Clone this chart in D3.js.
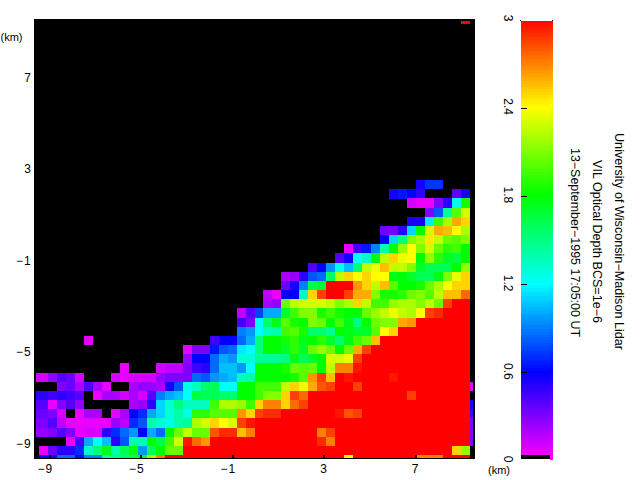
<!DOCTYPE html>
<html><head><meta charset="utf-8">
<style>html,body{margin:0;padding:0;background:#fff}svg{display:block}text{font-family:"Liberation Sans",Arial,sans-serif;font-size:12px;fill:#000}</style>
<script src="https://cdn.jsdelivr.net/npm/d3@7/dist/d3.min.js"></script>
</head><body><svg id="c" width="640" height="480"></svg>
<script>
const titleLines = ["University of Wisconsin\u2212Madison Lidar","VIL Optical Depth BCS=1e\u22126","13\u2212September\u22121995 17:05:00 UT"];
const xTicks = [-9,-5,-1,3,7];
const yTicks = [-9,-5,-1,3,7];
const barTicks = [0,0.6,1.2,1.8,2.4,3];
const firstDataRow = 17;
const rowStarts = [42,39,41,43,41,38,38,34,33,30,27,27,25,25,22,22,22,5,16,16,9,0,2,0,0,0,0,0,3,0];
const rowValues = [
[.55,.72,.72],
[.55,.65,.6,.5,null,null,null,.38,.55],
[.1,.05,.05,.3,.5,1.25,1.85],
[.3,.8,1.45,2,2.3],
[.55,.55,1.15,1.95,2.2,2.6,2.5],
[.33,.33,.5,1.1,1.8,2.3,2.6,2.55,2.4,2.2],
[.6,1.1,1.5,2.1,2.2,2.45,2.25,2.05,2,2.1],
[.05,.45,.65,.9,1.4,1.8,2.15,2.4,2.1,2.3,2.05,1.9,1.95,1.8],
[.4,.55,1.2,1.35,1.75,2.25,2.5,2.35,2.4,1.8,2.15,1.9,1.7,1.65,1.8],
[.42,.6,.95,1.25,1.05,1.55,2.25,2.35,2.55,2.25,2.25,2.1,1.7,1.6,1.6,1.6,1.8,2.15],
[.2,.25,.5,.8,.85,1.55,2.25,2.5,2.4,2.5,2.4,2.4,1.75,1.8,1.7,1.6,1.6,1.75,2.1,2.35,2.5],
[.35,.55,.9,1.6,1.7,3,3,3,2.65,2.5,2.25,2.55,2,1.8,1.8,1.85,2.05,2.2,2.4,2.5,2.5],
[.15,.05,.6,.6,1.35,2.5,2.85,3,3,2.85,2.6,2.6,2.1,1.85,1.85,1.9,2.05,2.1,2,2.25,2.55,2.55,2.75],
[.2,.25,2.05,2.25,2.3,2.3,2.3,2.25,2.1,2.2,2.5,2.25,1.95,1.95,2.15,2.2,2.2,2.1,2.25,2.05,2.85,3,3],
[.15,.4,.75,1,1,1.7,1.95,2.1,2.1,1.85,1.95,1.85,1.8,1.8,2.05,2.15,2.25,2.35,2.25,2.2,2.4,2.85,2.9,3,3,3],
[.45,.3,1.2,1.55,1.75,2,1.85,1.8,2.1,2.05,1.8,1.95,1.75,1.5,1.8,2.05,2.1,2.1,2.6,2.65,3,3,3,3,3,3],
[.9,.95,1.2,1.35,1.4,1.95,2,1.85,1.55,1.55,1.45,1.8,1.75,1.7,1.7,2,2.4,2.5,3,3,3,3,3,3,3,3],
[.05,null,null,null,null,null,null,null,null,null,null,null,null,null,.45,.6,.6,.85,1,1.5,1.8,1.8,1.85,1.9,1.75,1.8,1.9,1.7,1.55,1.75,1.95,2.05,2.55,3,3,3,3,3,3,3,3,3,3],
[.05,.3,.3,.65,.8,.85,1.15,1.2,1.5,1.8,1.8,1.7,1.9,1.7,2.05,2.15,2.05,1.8,2.05,2.6,2.85,3,3,3,3,3,3,3,3,3,3,3],
[.25,.6,.6,.85,1,.95,1.3,1.3,1.45,1.45,1.45,1.5,1.75,1.6,1.7,1.8,2.3,2.3,2.35,2.85,3,3,3,3,3,3,3,3,3,3,3,3],
[.05,null,null,null,.1,.15,.15,.3,.45,.5,.85,1.05,1.05,.95,1.2,1.8,1.8,1.8,1.85,2.05,2,2.05,1.8,2.25,2.7,2.7,2.95,3,3,3,3,3,3,3,3,3,3,3,3],
[.1,.25,.4,.35,.1,null,null,null,.1,.05,.1,.1,.1,.25,.3,.3,.3,.85,.8,.95,1,1.05,1.35,1.4,1.8,1.8,1.8,1.8,1.85,2,2.65,2.85,2.55,3,2.95,3,3,3,3,2.95,3,3,3,3,3,3,3,3],
[.3,.35,.2,.4,.2,.05,null,null,.2,.25,.25,.2,.55,.8,1.25,1.35,1.55,1.6,1.2,1.2,1.8,1.8,1.95,1.95,1.95,2.25,2.5,2.35,2.6,2.8,2.85,3,3,2.85,3,3,3,3,3,3,3,3,3,3,3,3],
[.5,.45,.5,.45,.4,null,.05,.2,.2,.1,.2,.1,.4,.9,1,1.05,1.2,1.65,1.6,1.6,1.55,1.55,1.8,1.8,1.95,2.1,2.1,2.5,2.85,2.75,3,3,3,3,3,3,3,3,3,3,3,2.85,3,3,3,3,3,3],
[.4,.05,.3,.4,.25,null,null,null,null,null,.2,.25,.5,1.1,1.3,1.5,1.35,1.35,1.35,1.95,2.2,2.2,2.15,1.95,2.5,2.7,2.7,2.5,2.75,2.85,3,3,3,3,3,3,3,3,3,3,3,3,3,3,3,3,3,3],
[.35,.3,.1,null,.05,.2,.2,null,.05,.2,.6,.7,1,1.1,1.3,1.4,1.25,1.9,1.9,2,2,2,2.65,2.5,2.85,2.9,2.9,3,3,3,3,3,3,2.95,2.8,2.85,3,3,3,3,3,3,3,3,3,3,3,3],
[.3,.4,.15,.05,.05,.05,.05,.05,.25,.15,.7,.8,1.4,1.3,1.25,1.4,1.45,2.2,2.3,2.5,2.4,2.3,2.85,2.95,3,3,3,3,3,3,3,3,3,3,3,3,3,3,3,3,3,3,3,3,3,3,3,3],
[.25,.3,.4,.3,.05,.1,.1,.5,.7,.85,.95,.6,1,.85,1.8,2.05,2.25,2.05,2.05,2.8,2.9,2.9,2.55,2.7,3,3,3,3,3,3,3,2.7,2.85,3,3,3,3,3,3,3,3,3,3,3,3,3,3,3],
[.05,.45,1,1.2,1.05,.5,.8,1.4,1.35,1.8,1.65,1.95,2.3,2.95,2.75,2.65,3,3,3,3,3,3,3,3,3,3,3,3,2.9,2.7,3,3,3,3,3,3,3,3,3,3,3,3,3,3,3],
[.05,.35,.5,.5,.7,1.35,1.5,1.75,1.4,1.6,1.75,.95,1.6,1.8,2.05,2.05,3,3,3,3,3,3,3,3,3,3,3,3,3,3,3,3,3,3,3,3,3,3,3,3,3,3,3,3,3,3,2.5,2.15]
];
// Colours along the three-pixel strip where the image wraps along the bottom edge
const bottomStrip = [.6,.55,.85,.85,.6,.9,.9,1.4,1.5,1.55,1.6,1.7,2.2,2.7,3,3,3,3,3,3,3,3,3,3,3,3,3,3,3,3,3,3,3,3,2.4,3,3,3,3,3,3,3,2.7,2.7,2.7,3,3,3];
// Colours along the strip where the image wraps along the right edge, by grid row
const rightStripRows = [39,41,42,43,44,45];
const rightStripValues = [.05,.55,.45,.3,.3,.3];
const topStripCols = [47];
const topStripValues = [3];

const svg = d3.select("#c");
const color = v => d3.hsl(300 - 100 * v, 1, 0.5).formatHex();
const colBand = d3.scaleBand().domain(d3.range(48)).range([39, 470]);
const rowBand = d3.scaleBand().domain(d3.range(47)).range([24.2, 455]);
const x = d3.scaleLinear().domain([-9, 7]).range([49, 415]);
const y = d3.scaleLinear().domain([-9, 7]).range([444, 78]);
const bar = d3.scaleLinear().domain([0, 3]).range([461, 20]);
const fmt = d => String(d).replace("-", "\u2212");

svg.append("rect").attr("x",34).attr("y",19).attr("width",441).attr("height",440).attr("fill","#000");

const cells = [];
rowValues.forEach((vals, i) => vals.forEach((v, j) => {
  if (v !== null) cells.push({r: firstDataRow + i, c: rowStarts[i] + j, v});
}));
const g = svg.append("g").attr("shape-rendering","crispEdges");
g.selectAll("rect.cell").data(cells).join("rect").attr("class","cell")
  .attr("x", d => colBand(d.c)).attr("y", d => rowBand(d.r))
  .attr("width", colBand.bandwidth()+.3).attr("height", rowBand.bandwidth()+.3)
  .attr("fill", d => color(d.v));
// left wrap strip repeats the first column, except on the last row
g.selectAll("rect.left").data(cells.filter(d => d.c === 0 && d.r !== 46)).join("rect").attr("class","left")
  .attr("x", 36).attr("y", d => rowBand(d.r)).attr("width", 3).attr("height", rowBand.bandwidth()+.3)
  .attr("fill", d => color(d.v));
g.selectAll("rect.bot").data(bottomStrip).join("rect").attr("class","bot")
  .attr("x", (d,i) => colBand(i)).attr("y", 455).attr("width", colBand.bandwidth()+.3).attr("height", 3)
  .attr("fill", d => color(d));
g.selectAll("rect.right").data(rightStripValues).join("rect").attr("class","right")
  .attr("x", 470).attr("y", (d,i) => rowBand(rightStripRows[i])).attr("width", 3).attr("height", rowBand.bandwidth()+.3)
  .attr("fill", d => color(d));
g.selectAll("rect.top").data(topStripValues).join("rect").attr("class","top")
  .attr("x", (d,i) => colBand(topStripCols[i])).attr("y", 21).attr("width", colBand.bandwidth()).attr("height", 2.5)
  .attr("fill", d => color(d));

// axes
const xAxis = svg.append("g").attr("transform","translate(0,459)")
  .call(d3.axisBottom(x).tickValues(xTicks).tickSize(-4).tickPadding(0).tickFormat(fmt));
const yAxis = svg.append("g").attr("transform","translate(34,0)")
  .call(d3.axisLeft(y).tickValues(yTicks).tickSize(-4).tickPadding(0).tickFormat(fmt));
[xAxis,yAxis].forEach(a => { a.select(".domain").remove(); a.attr("font-family",null).attr("font-size",null);
  a.selectAll("line").attr("stroke","#000").attr("stroke-width",2).attr("shape-rendering","crispEdges");
  a.selectAll("text").style("letter-spacing","1.2px"); });
xAxis.selectAll("text").attr("text-anchor","end").attr("x",4).attr("y",14).attr("dy",0);
yAxis.selectAll("text").attr("text-anchor","end").attr("x",-2).attr("y",-1).attr("dy",".35em");
svg.append("text").attr("x",0.5).attr("y",41).style("font-size","11px").text("(km)");
svg.append("text").attr("x",488).attr("y",474).style("font-size","11px").text("(km)");

// colour bar
const levels = d3.range(0, 3.0001, 3/160);
const cb = svg.append("g").attr("shape-rendering","crispEdges");
const stepH = Math.abs(bar(0)-bar(3/160));
cb.selectAll("rect.m").data(levels).join("rect").attr("class","m")
  .attr("x",521).attr("width",29).attr("y",d=>Math.max(21,bar(d)-stepH))
  .attr("height",d=>Math.max(0,Math.min(455,bar(d))-Math.max(21,bar(d)-stepH)+.5))
  .attr("fill",d=>color(d));
cb.selectAll("rect.e").data(levels).join("rect").attr("class","e")
  .attr("x",550).attr("width",3).attr("y",d=>Math.max(21,bar(d)-stepH-2))
  .attr("height",d=>Math.max(0,Math.min(459,bar(d)-2)-Math.max(21,bar(d)-stepH-2)+.5))
  .attr("fill",d=>color(d));
cb.append("rect").attr("x",521).attr("y",455).attr("width",29).attr("height",4).attr("fill","#000");
cb.selectAll("line.t").data(barTicks.filter(d=>d>0&&d<3)).join("line").attr("class","t")
  .attr("x1",521).attr("x2",527).attr("y1",d=>bar(d)).attr("y2",d=>bar(d)).attr("stroke","#000");
cb.selectAll("rect.dot").data([520,552]).join("rect").attr("class","dot").attr("x",d=>d).attr("y",20).attr("width",1).attr("height",1).attr("fill","#000");
svg.selectAll("text.bl").data(barTicks).join("text").attr("class","bl")
  .attr("text-anchor","middle")
  .attr("transform",d=>`translate(503.5,${d===3?18:d===0?459:bar(d)-1.5}) rotate(90)`)
  .text(d=>d);

// title lines, rotated
const titleX = [614.5,592.5,570.5], titleY = [241.5,241.5,242.5], titleLen = [217,163,189];
svg.selectAll("text.ttl").data(titleLines).join("text").attr("class","ttl")
  .attr("text-anchor","middle")
  .attr("textLength",(d,i)=>titleLen[i]).attr("lengthAdjust","spacingAndGlyphs")
  .attr("transform",(d,i)=>`translate(${titleX[i]},${titleY[i]}) rotate(90)`)
  .text(d=>d);
</script></body></html>
